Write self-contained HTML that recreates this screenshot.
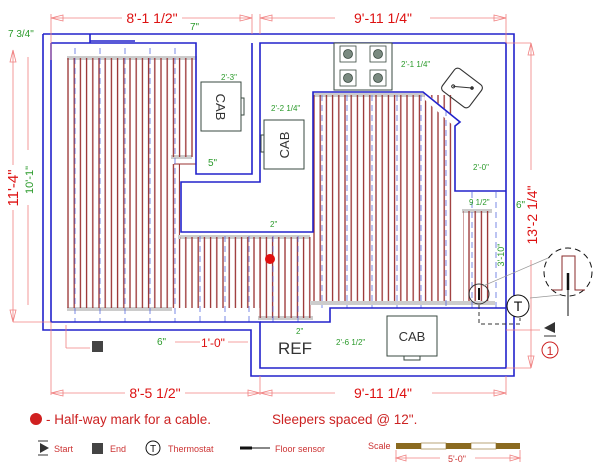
<!DOCTYPE html>
<html><head><meta charset="utf-8"><style>
html,body{margin:0;padding:0;background:#fff;}
svg{display:block;font-family:"Liberation Sans",sans-serif;}
</style></head><body>
<svg width="600" height="475" viewBox="0 0 600 475" xmlns="http://www.w3.org/2000/svg">
<defs>
<pattern id="cab" x="67" y="0" width="6.2" height="10" patternUnits="userSpaceOnUse">
<line x1="1" y1="0" x2="1" y2="10" stroke="#983030" stroke-width="1.3"/>
</pattern>
<pattern id="cab2" x="313" y="0" width="6.2" height="10" patternUnits="userSpaceOnUse">
<line x1="1" y1="0" x2="1" y2="10" stroke="#983030" stroke-width="1.3"/>
</pattern>
</defs>
<rect width="600" height="475" fill="#fff"/>

<g>
<rect x="67" y="56" width="105" height="4" fill="#ccc"/>
<rect x="67" y="307" width="105" height="4" fill="#ccc"/>
<rect x="67" y="58" width="105" height="250" fill="url(#cab)"/>
<rect x="172" y="56" width="25" height="4" fill="#ccc"/>
<rect x="171" y="155" width="21" height="4" fill="#ccc"/>
<rect x="172" y="58" width="24" height="99" fill="url(#cab)"/>
<line x1="174" y1="164" x2="196" y2="164" stroke="#983030"/>
<rect x="172" y="164" width="8" height="144" fill="url(#cab)"/>
<rect x="178" y="235" width="132" height="4" fill="#ccc"/>
<rect x="180" y="237" width="80" height="71" fill="url(#cab)"/>
<rect x="258" y="316" width="55" height="4" fill="#ccc"/>
<rect x="258" y="237" width="55" height="81" fill="url(#cab)"/>
<rect x="313" y="93" width="112" height="4" fill="#ccc"/>
<rect x="313" y="95" width="142" height="208" fill="url(#cab2)"/>
<rect x="310" y="301" width="146" height="4" fill="#ccc"/>
<polygon points="425,92 460,122 458,130 425,100" fill="#fff"/>
<rect x="462" y="209" width="30" height="4" fill="#ccc"/>
<rect x="463" y="211" width="28" height="92" fill="url(#cab2)"/>
<rect x="455" y="301" width="40" height="4" fill="#ccc"/>
</g>
<g stroke="#5a6be0" stroke-width="1" stroke-dasharray="6,4" opacity="0.8">
<line x1="75" y1="48" x2="75" y2="322"/><line x1="100" y1="48" x2="100" y2="322"/>
<line x1="125" y1="48" x2="125" y2="322"/><line x1="150" y1="48" x2="150" y2="322"/>
<line x1="175" y1="48" x2="175" y2="322"/><line x1="200" y1="236" x2="200" y2="322"/>
<line x1="225" y1="236" x2="225" y2="322"/><line x1="249" y1="236" x2="249" y2="322"/>
<line x1="273" y1="236" x2="273" y2="322"/><line x1="298" y1="236" x2="298" y2="322"/>
<line x1="322" y1="95" x2="322" y2="308"/><line x1="347" y1="95" x2="347" y2="308"/>
<line x1="372" y1="95" x2="372" y2="308"/><line x1="397" y1="95" x2="397" y2="308"/>
<line x1="421" y1="95" x2="421" y2="308"/><line x1="446" y1="110" x2="446" y2="308"/>
<line x1="472" y1="192" x2="472" y2="308"/><line x1="496" y1="192" x2="496" y2="308"/>
</g>

<g fill="none" stroke="#2222cc" stroke-width="1.6">
<polyline points="43,34 514,34 514,376 251,376 251,330 43,330 43,34"/>
<polyline points="51,43 196,43 196,174 252,174 252,43"/>
<line x1="90" y1="34" x2="90" y2="43"/><line x1="90" y1="41" x2="135" y2="41"/>
<polyline points="51,43 51,322 260,322 260,368 506,368 506,43 260,43 260,182 181,182 181,232 313,232 313,92 423,92 460,122 455,126 455,191 506,191"/>
<polyline points="260,322 330,322 330,308 506,308"/>
</g>

<g fill="none" stroke="#3a4a40" stroke-width="1">
<rect x="201" y="82" width="40" height="49"/><rect x="241" y="98" width="3" height="17"/>
<rect x="264" y="120" width="40" height="49"/><rect x="261" y="135" width="3" height="17"/>
<rect x="387" y="316" width="50" height="40"/><rect x="404" y="356" width="16" height="4"/>
<rect x="334" y="43" width="58" height="47" fill="#fff"/>
</g>
<g fill="#7a8a80" stroke="#3a4a40" stroke-width="0.8">
<rect x="340" y="46" width="16" height="16" fill="#fff"/><circle cx="348" cy="54" r="4.5"/>
<rect x="370" y="46" width="16" height="16" fill="#fff"/><circle cx="378" cy="54" r="4.5"/>
<rect x="340" y="70" width="16" height="16" fill="#fff"/><circle cx="348" cy="78" r="4.5"/>
<rect x="370" y="70" width="16" height="16" fill="#fff"/><circle cx="378" cy="78" r="4.5"/>
</g>
<g transform="translate(462,88) rotate(37)">
<rect x="-17" y="-14" width="34" height="28" rx="4" fill="none" stroke="#333" stroke-width="1.1"/>
<line x1="-8" y1="4" x2="8" y2="-6" stroke="#333"/><circle cx="8" cy="-6" r="1.8" fill="#333"/><circle cx="-8" cy="4" r="1.5" fill="none" stroke="#333"/>
</g>
<g font-size="13" fill="#333">
<text transform="translate(216,107) rotate(90)" text-anchor="middle">CAB</text>
<text transform="translate(289,145) rotate(-90)" text-anchor="middle">CAB</text>
<text x="412" y="341" text-anchor="middle">CAB</text>
<text x="278" y="354" font-size="17">REF</text>
</g>

<g stroke="#f08080" stroke-width="0.8" fill="none">
<line x1="51" y1="18" x2="122" y2="18"/><line x1="182" y1="18" x2="252" y2="18"/>
<line x1="260" y1="18" x2="335" y2="18"/><line x1="430" y1="18" x2="506" y2="18"/>
<line x1="51" y1="14" x2="51" y2="60"/><line x1="252" y1="14" x2="252" y2="34"/>
<line x1="260" y1="14" x2="260" y2="34"/><line x1="506" y1="14" x2="506" y2="43"/>
<line x1="13" y1="50" x2="13" y2="165"/><line x1="13" y1="210" x2="13" y2="322"/>
<line x1="13" y1="322" x2="51" y2="322"/>
<line x1="28" y1="57" x2="28" y2="150"/><line x1="28" y1="205" x2="28" y2="305"/>
<line x1="506" y1="43" x2="531" y2="43"/><line x1="531" y1="43" x2="531" y2="170"/><line x1="531" y1="260" x2="531" y2="368"/><line x1="506" y1="368" x2="531" y2="368"/>
<line x1="51" y1="322" x2="51" y2="395"/><line x1="260" y1="376" x2="260" y2="395"/><line x1="506" y1="376" x2="506" y2="395"/>
<line x1="51" y1="393" x2="125" y2="393"/><line x1="185" y1="393" x2="260" y2="393"/>
<line x1="260" y1="393" x2="335" y2="393"/><line x1="432" y1="393" x2="506" y2="393"/>
<line x1="175" y1="342" x2="200" y2="342"/><line x1="228" y1="342" x2="248" y2="342"/>
<line x1="66" y1="325" x2="66" y2="348"/><line x1="66" y1="348" x2="90" y2="348"/>
<line x1="396" y1="458" x2="440" y2="458"/><line x1="475" y1="458" x2="520" y2="458"/>
<line x1="396" y1="450" x2="396" y2="462"/><line x1="520" y1="450" x2="520" y2="462"/>
<line x1="506" y1="330" x2="540" y2="330"/>
</g>
<g fill="none" stroke="#f08080" stroke-width="0.8">
<polygon points="51,18 63,15 63,21"/><polygon points="252,18 240,15 240,21"/>
<polygon points="260,18 272,15 272,21"/><polygon points="506,18 494,15 494,21"/>
<polygon points="13,50 10,62 16,62"/><polygon points="13,322 10,310 16,310"/>
<polygon points="531,43 528,55 534,55"/><polygon points="531,368 528,356 534,356"/>
<polygon points="51,393 63,390 63,396"/><polygon points="260,393 248,390 248,396"/>
<polygon points="260,393 272,390 272,396"/><polygon points="506,393 494,390 494,396"/>
<polygon points="396,458 406,455 406,461"/><polygon points="520,458 510,455 510,461"/>
</g>

<g fill="#dd1111" font-size="14">
<text x="152" y="23" text-anchor="middle">8'-1 1/2"</text>
<text x="383" y="23" text-anchor="middle">9'-11 1/4"</text>
<text x="155" y="398" text-anchor="middle">8'-5 1/2"</text>
<text x="383" y="398" text-anchor="middle">9'-11 1/4"</text>
<text transform="translate(18,188) rotate(-90)" text-anchor="middle" font-size="15">11'-4"</text>
<text transform="translate(537,215) rotate(-90)" text-anchor="middle">13'-2 1/4"</text>
<text x="213" y="347" text-anchor="middle" font-size="12">1'-0"</text>
</g>
<g fill="#cc2222" font-size="13.5">
<text x="46" y="424">- Half-way mark for a cable.</text>
<text x="272" y="424">Sleepers spaced @ 12".</text>
</g>
<g fill="#cc3333" font-size="9">
<text x="54" y="452">Start</text><text x="110" y="452">End</text>
<text x="168" y="452">Thermostat</text><text x="275" y="452">Floor sensor</text>
<text x="368" y="449">Scale</text><text x="457" y="462" text-anchor="middle">5'-0"</text>
</g>
<g fill="#2a9a2a" font-size="9">
<text x="8" y="37" font-size="10">7 3/4"</text>
<text x="190" y="30" font-size="10">7"</text>
<text transform="translate(33,180) rotate(-90)" text-anchor="middle" font-size="11">10'-1"</text>
<text x="221" y="80" font-size="8">2'-3"</text>
<text x="271" y="111" font-size="8">2'-2 1/4"</text>
<text x="208" y="166" font-size="10">5"</text>
<text x="270" y="227" font-size="8">2"</text>
<text x="401" y="67" font-size="8">2'-1 1/4"</text>
<text x="473" y="170" font-size="8">2'-0"</text>
<text x="469" y="205" font-size="8">9 1/2"</text>
<text x="516" y="208" font-size="10">6"</text>
<text transform="translate(504,255) rotate(-90)" text-anchor="middle" font-size="9">3'-10"</text>
<text x="296" y="334" font-size="8">2"</text>
<text x="336" y="345" font-size="8">2'-6 1/2"</text>
<text x="157" y="345" font-size="10">6"</text>
</g>

<circle cx="270" cy="259" r="5" fill="#e01010"/>
<circle cx="36" cy="419" r="6" fill="#d02020"/>
<rect x="92" y="341" width="11" height="11" fill="#444"/>
<rect x="92" y="443" width="11" height="11" fill="#444"/>
<polygon points="40,443 49,448 40,453" fill="#333"/><line x1="38" y1="441" x2="48" y2="441" stroke="#333"/><line x1="38" y1="455" x2="48" y2="455" stroke="#333"/>
<circle cx="153" cy="448" r="7" fill="#fff" stroke="#111"/><text x="153" y="452" font-size="10" text-anchor="middle" fill="#111">T</text>
<line x1="240" y1="448" x2="270" y2="448" stroke="#111"/><line x1="240" y1="448" x2="252" y2="448" stroke="#111" stroke-width="3"/>
<g>
<rect x="396" y="443" width="25" height="6" fill="#8a6a20"/><rect x="421" y="443" width="25" height="6" fill="#fff" stroke="#8a6a20" stroke-width="0.6"/>
<rect x="446" y="443" width="25" height="6" fill="#8a6a20"/><rect x="471" y="443" width="25" height="6" fill="#fff" stroke="#8a6a20" stroke-width="0.6"/>
<rect x="496" y="443" width="24" height="6" fill="#8a6a20"/>
</g>
<polyline points="479,305 479,324 520,324 520,318" fill="none" stroke="#333" stroke-dasharray="4,3"/>
<circle cx="479" cy="294" r="10" fill="none" stroke="#333"/>
<line x1="479" y1="288" x2="479" y2="300" stroke="#111" stroke-width="2"/>
<line x1="483" y1="286" x2="548" y2="258" stroke="#999" stroke-width="0.7"/>
<line x1="530" y1="298" x2="560" y2="295" stroke="#999" stroke-width="0.7"/>
<circle cx="518" cy="306" r="11" fill="#fff" stroke="#111"/><text x="518" y="311" font-size="14" text-anchor="middle" fill="#111">T</text>
<circle cx="568" cy="272" r="24" fill="none" stroke="#111" stroke-dasharray="6,4"/>
<polyline points="552,290 562,290 562,256 575,256 575,290 585,290" fill="none" stroke="#8a2a2a"/>
<line x1="568" y1="273" x2="568" y2="316" stroke="#111"/><line x1="568" y1="273" x2="568" y2="290" stroke="#111" stroke-width="2.5"/>
<polygon points="555,322 555,333 544,328" fill="#333"/><line x1="544" y1="336" x2="556" y2="336" stroke="#333"/>
<circle cx="550" cy="350" r="8" fill="#fff" stroke="#c22"/><text x="550" y="355" font-size="12" text-anchor="middle" fill="#c22">1</text>
</svg>
</body></html>
